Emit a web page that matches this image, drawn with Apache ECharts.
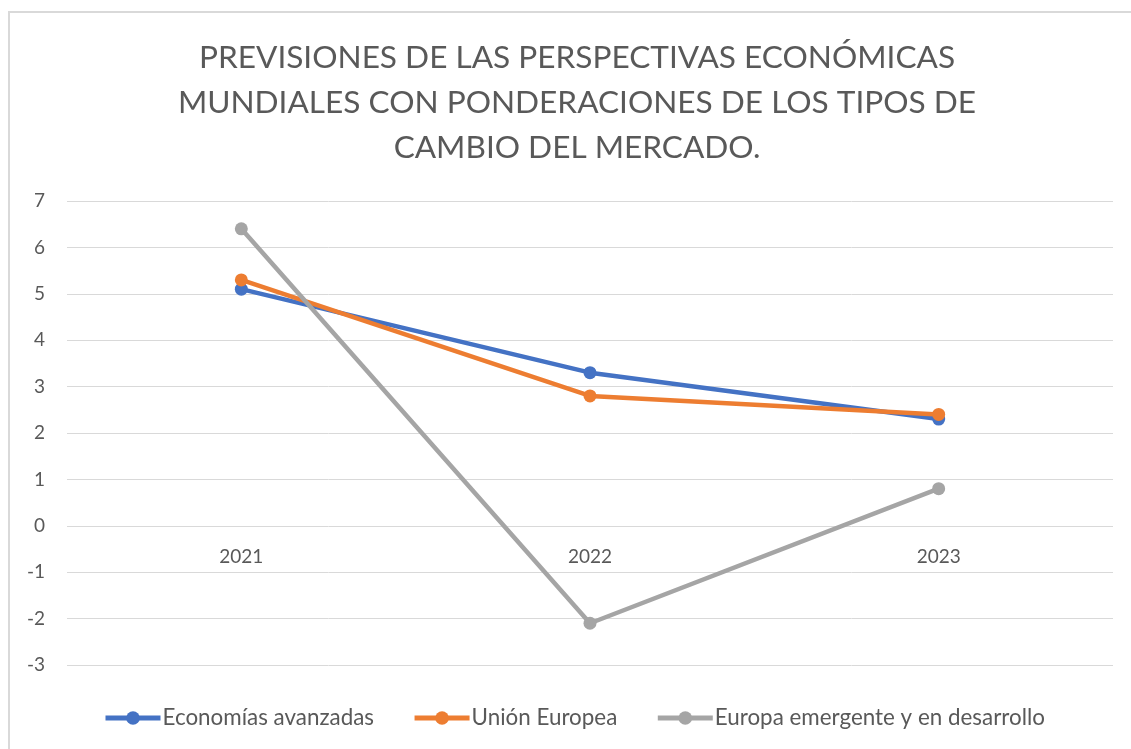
<!DOCTYPE html>
<html>
<head>
<meta charset="utf-8">
<script src="https://cdn.jsdelivr.net/npm/echarts@6/dist/echarts.min.js"></script>
<style>
html,body{margin:0;padding:0;background:#fff;}
#frame{position:absolute;left:8px;top:11px;width:1140px;height:760px;border:2px solid #d9d9d9;box-sizing:border-box;}
#chart{position:absolute;left:0;top:0;width:1131px;height:749px;}
</style>
</head>
<body>
<div id="frame"></div>
<div id="chart"></div>
<script>
const titleText = "PREVISIONES DE LAS PERSPECTIVAS ECONÓMICAS\nMUNDIALES CON PONDERACIONES DE LOS TIPOS DE\nCAMBIO DEL MERCADO.";
const categories = ["2021", "2022", "2023"];
const seriesNames = ["Economías avanzadas", "Unión Europea", "Europa emergente y en desarrollo"];
const economiasAvanzadas = [5.1, 3.3, 2.3];
const unionEuropea = [5.3, 2.8, 2.4];
const europaEmergente = [6.4, -2.1, 0.8];
const yMin = -3, yMax = 7;
const colors = ["#4472C4", "#ED7D31", "#A5A5A5"];
const FONT = "Lato, 'Open Sans', sans-serif";

const gridTop = 201, gridBottom = 84, H = 749;
const plotH = H - gridTop - gridBottom;
const zeroOffset = -plotH * (0 - yMin) / (yMax - yMin);

const chart = echarts.init(document.getElementById('chart'), null, {renderer: 'canvas'});
const mk = (name, data, color) => ({
  name: name, type: 'line', data: data,
  symbol: 'circle', symbolSize: 13,
  lineStyle: {width: 4.5, color: color},
  itemStyle: {color: color},
  emphasis: {disabled: true}
});
chart.setOption({
  animation: false,
  color: colors,
  textStyle: {fontFamily: FONT},
  title: {
    text: titleText, left: 572, textAlign: 'center', top: 30,
    textStyle: {fontFamily: FONT, fontSize: 31.6, fontWeight: 'normal', color: '#595959', lineHeight: 45}
  },
  legend: {
    bottom: 15, left: 98, itemWidth: 55, itemHeight: 17, itemGap: 38,
    lineStyle: {width: 5},
    textStyle: {fontFamily: FONT, fontSize: 22.4, color: '#595959', padding: [0,0,0,-3]},
    data: seriesNames
  },
  grid: {left: 67, right: 18, top: gridTop, bottom: gridBottom, containLabel: false},
  xAxis: {
    type: 'category', data: categories, boundaryGap: true,
    offset: zeroOffset,
    axisLine: {show: false, onZero: false},
    axisTick: {show: false},
    axisLabel: {fontFamily: FONT, fontSize: 19, color: '#595959', margin: 22}
  },
  yAxis: {
    type: 'value', min: yMin, max: yMax, interval: 1,
    axisLine: {show: false}, axisTick: {show: false},
    splitLine: {lineStyle: {color: '#d9d9d9', width: 1}},
    axisLabel: {fontFamily: FONT, fontSize: 19, color: '#595959', margin: 22}
  },
  series: [
    mk(seriesNames[0], economiasAvanzadas, colors[0]),
    mk(seriesNames[1], unionEuropea, colors[1]),
    mk(seriesNames[2], europaEmergente, colors[2])
  ]
});
</script>
</body>
</html>
